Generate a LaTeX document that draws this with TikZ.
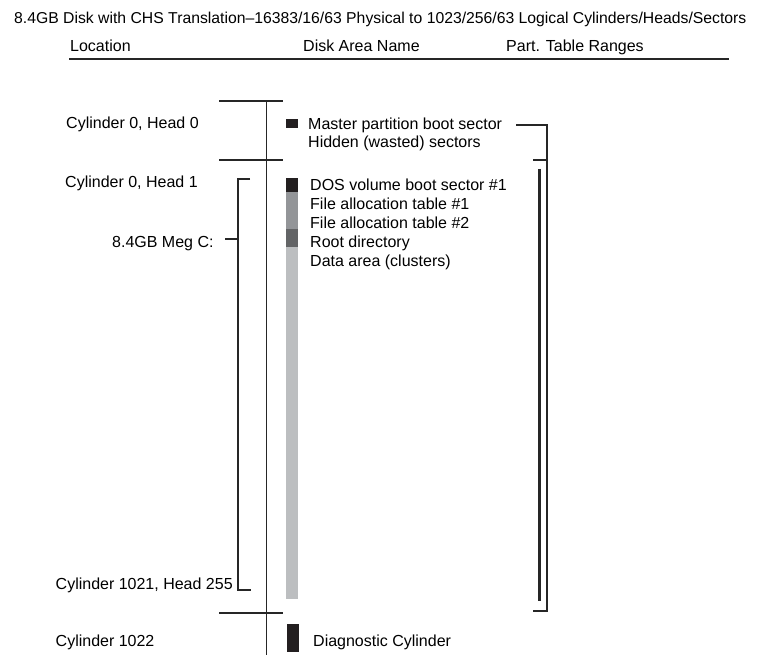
\documentclass[tikz,border=0pt]{standalone}
\usepackage{fontspec}
\setmainfont{Liberation Sans}
\usepackage{xcolor}
\definecolor{secdark}{HTML}{231F20}
\definecolor{fatgray}{HTML}{939598}
\definecolor{rootgray}{HTML}{636466}
\definecolor{datagray}{HTML}{BCBEC0}
\usepackage{tikz}
\usetikzlibrary{positioning}

\begin{document}
\begin{tikzpicture}[x=1pt,y=-1pt,
    txt/.style={anchor=base west,inner sep=0pt,font=\fontsize{16}{19}\selectfont},
    rule/.style={line width=1.2pt,black!85}]
  \useasboundingbox (0,0) rectangle (757,655);
  % heading
  \node[txt,font=\fontsize{15.75}{19}\selectfont] (title) at (14,24) {8.4GB Disk with CHS Translation–16383/16/63 Physical to 1023/256/63 Logical Cylinders/Heads/Sectors};
  \node[txt] (hloc) at (70,52) {Location};
  \node[txt] (hname) at (303,52) {Disk Area Name};
  \node[txt] (hrange) at (506,52) {Part. Table Ranges};
  \draw[line width=2pt,black!85] (69,59.5) -- (729,59.5);
  % disk axis
  \draw[rule] (266.5,101) -- (266.5,655);
  \foreach \y in {101,160,613}
    \draw[rule] (219,\y) -- (283,\y);
  % locations
  \node[txt] (cylzero) at (66,129) {Cylinder 0, Head 0};
  \node[txt] (cylone) at (65,187) {Cylinder 0, Head 1};
  \node[txt] (drivec) at (112,247) {8.4GB Meg C:};
  \node[txt] (cyllast) at (55.5,589) {Cylinder 1021, Head 255};
  \node[txt] (cyldiag) at (55.5,646) {Cylinder 1022};
  \draw[rule] (250,179) -- (238,179) -- (238,590) -- (251,590);
  \draw[rule] (225,239) -- (238,239);
  % disk areas
  \fill[secdark] (286,119) rectangle (298,128);
  \fill[secdark] (286,178.3) rectangle (298,191.7);
  \fill[fatgray] (286,191.7) rectangle (298,229.3);
  \fill[rootgray] (286,229.3) rectangle (298,247.3);
  \fill[datagray] (286,247.3) rectangle (298,599);
  \fill[secdark] (287,624) rectangle (298.5,652);
  \node[txt] (mbr) at (308,129.5) {Master partition boot sector};
  \node[txt] (hidden) at (308,147.5) {Hidden (wasted) sectors};
  \node[txt] (dosboot) at (310,190.5) {DOS volume boot sector \#1};
  \node[txt] (fatone) at (310,209.5) {File allocation table \#1};
  \node[txt] (fattwo) at (310,228.5) {File allocation table \#2};
  \node[txt] (rootdir) at (310,247.5) {Root directory};
  \node[txt] (data) at (310,266) {Data area (clusters)};
  \node[txt] (diag) at (313,646) {Diagnostic Cylinder};
  % partition table ranges
  \draw[rule] (516,125) -- (547,125) -- (547,611) -- (533,611);
  \draw[rule] (533,160) -- (547,160);
  \draw[line width=2.5pt,black!85] (539.5,169) -- (539.5,601);
\end{tikzpicture}
\end{document}
